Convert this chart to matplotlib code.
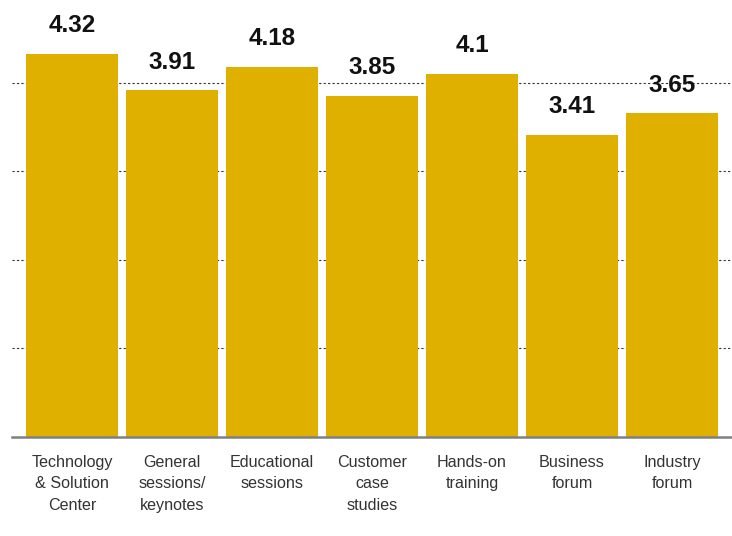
import matplotlib.pyplot as plt

categories = ['Technology\n& Solution\nCenter', 'General\nsessions/\nkeynotes',
              'Educational\nsessions', 'Customer\ncase\nstudies', 'Hands-on\ntraining',
              'Business\nforum', 'Industry\nforum']
scores = [4.32, 3.91, 4.18, 3.85, 4.1, 3.41, 3.65]

plt.rcParams['font.family'] = ['Liberation Sans', 'DejaVu Sans']

fig = plt.figure(figsize=(7.32, 5.36), dpi=100)
ax = fig.add_axes([12 / 732, 1 - 436.5 / 536, 720 / 732, 436.5 / 536])

x = range(len(scores))
bars = ax.bar(x, scores, width=0.92, color='#E0B000', zorder=2)

# score above each bar
for xi, v in zip(x, scores):
    ax.text(xi, v + 0.32, f'{v:g}', ha='center', va='center', fontsize=17.5,
            fontweight='bold', color='#111111')

ax.set_xlim(-0.6, 6.6)
ax.set_ylim(0, 436.5 / 88.5)
ax.set_yticks([1, 2, 3, 4])
ax.yaxis.grid(True, linestyle=(0, (2, 2)), color='#333333', linewidth=0.8, zorder=0)
ax.tick_params(axis='y', left=False, labelleft=False)
ax.set_xticks(list(x))
ax.set_xticklabels(categories, fontsize=11.6, color='#333333', linespacing=1.55)
ax.tick_params(axis='x', length=0, pad=13)

for s in ['top', 'left', 'right']:
    ax.spines[s].set_visible(False)
ax.spines['bottom'].set_color('#808080')
ax.spines['bottom'].set_linewidth(1.8)

fig.savefig('out.png', dpi=100)
